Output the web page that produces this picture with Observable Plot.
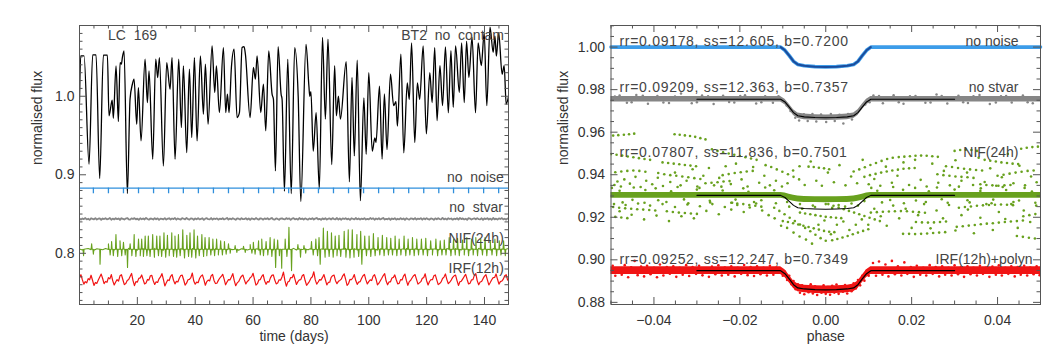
<!DOCTYPE html>
<html><head><meta charset="utf-8">
<script src="https://cdn.jsdelivr.net/npm/d3@7"></script>
<script src="https://cdn.jsdelivr.net/npm/@observablehq/plot@0.6"></script>
<style>
body{margin:0;background:#fff;}
#wrap{display:flex;width:1063px;height:354px;overflow:hidden;}
</style></head><body><div id="wrap"></div>
<script>
// ---------------- LEFT PANEL DATA (time in days, normalised flux) ----------------
const blackCurve = [[0.0,0.992],[0.41,1.0514],[1.57,1.0514],[3.30,0.9134],[4.56,1.0527],[5.72,1.0527],[6.98,0.8951],[8.25,1.0523],[9.64,1.0523],[10.2,0.975],[11.3,0.995],[11.7,0.972],[12.63,1.0387],[13.44,0.9678],[14.02,1.0429],[14.48,1.0408],[14.82,1.0493],[15.40,1.0578],[16.55,0.876],[17.47,0.9962],[18.28,1.0153],[18.86,1.0217],[19.78,0.9644],[20.36,1.0111],[21.28,0.9431],[22.66,1.0472],[23.47,0.992],[24.04,1.0323],[25.31,0.9198],[26.35,1.0472],[27.04,1.0238],[27.62,1.0493],[29.0,0.9112],[30.15,1.0429],[31.30,1.009],[31.99,1.0493],[33.03,0.9198],[34.30,1.0472],[35.22,0.9601],[35.91,1.0387],[37.07,0.9283],[37.99,1.0344],[38.80,0.9474],[39.72,1.0493],[40.64,0.9431],[41.80,1.0514],[42.83,0.9771],[43.52,1.0408],[44.45,0.9644],[45.83,1.0642],[46.75,1.0047],[47.33,1.0387],[48.36,0.9792],[49.75,1.062],[50.55,0.9792],[51.13,1.0026],[51.71,0.9792],[52.51,1.0366],[53.44,1.0599],[54.47,0.9729],[55.28,0.9792],[56.20,1.062],[56.89,1.0633],[57.35,1.0535],[58.97,0.9729],[60.12,1.0366],[60.81,1.0217],[61.39,1.0514],[62.66,0.9792],[63.58,1.0153],[64.39,0.9559],[65.42,1.0578],[66.57,1.0026],[67.04,0.9962],[67.73,0.9049],[68.65,1.0633],[69.69,1.0026],[70.03,0.9962],[70.84,0.879],[72.0,1.047],[73.2,0.876],[74.4,1.062],[75.6,1.0],[76.5,0.866],[78.3,1.066],[79.3,1.013],[79.6,1.0],[80.0,1.006],[80.8,0.930],[81.8,0.979],[82.9,0.882],[84.0,1.075],[85.0,0.971],[85.9,1.0726],[87.2,0.913],[88.2,1.039],[88.8,0.975],[89.5,1.0],[90.2,0.971],[92.2,1.044],[93.3,0.891],[94.2,1.024],[95.0,0.924],[96.0,1.046],[97.1,0.867],[98.3,0.998],[99.1,0.926],[100.0,1.030],[101.2,0.930],[102.1,0.947],[102.5,0.941],[103.7,1.013],[104.6,0.920],[105.4,1.003],[106.3,0.932],[107.5,1.028],[108.6,0.988],[109.4,0.993],[109.9,0.962],[111.1,1.0535],[112.1,0.928],[113.3,1.017],[114.0,0.996],[114.8,1.068],[115.9,0.941],[116.8,1.017],[117.6,0.996],[118.8,1.064],[119.9,0.952],[121.1,1.030],[121.9,0.992],[122.8,1.062],[123.6,0.969],[124.6,1.039],[125.5,0.988],[126.5,1.063],[127.5,0.979],[128.4,1.058],[129.2,0.986],[130.0,1.064],[131.3,1.005],[132.1,1.068],[133.0,0.992],[133.8,1.070],[134.6,1.024],[135.7,1.075],[136.9,0.979],[137.8,1.068],[138.9,1.039],[139.9,1.081],[140.8,0.988],[141.9,1.088],[143.0,1.056],[143.6,1.077],[144.1,1.051],[144.9,1.081],[146.1,1.028],[146.8,1.039],[147.5,0.990],[148.3,1.000]];

// "no noise" curve: flat level with transits
const noNoiseLevel = 0.883;
const noNoiseDepth = 0.0072;
const transitTimes = [4.8,10.0,15.2,20.4,25.6,30.8,35.9,41.1,46.3,51.5,56.7,61.9,67.1,72.3,77.5,82.6,87.8,93.0,98.2,103.4,108.6,113.8,119.0,124.2,129.3,134.5,139.7,144.9];

// "no stvar": level and half-day samples (offsets in 1e-4)
const noStvarLevel = 0.8438;
const sampleStep = 0.5;
const noStvarDev = [4,-9,6,-3,11,-7,2,-12,8,0,-5,10,-8,3,7,-11,5,-2,9,-6,
-1,12,-10,4,-7,8,-3,6,-13,9,1,-8,5,11,-5,-9,7,-2,10,-6,
3,-11,8,-4,6,-7,13,-1,-10,5,2,-8,9,-5,7,-12,4,1,-6,10,
-9,3,8,-7,5,-2,11,-10,6,-4,-8,9,2,-6,12,-3,-9,7,4,-11,
6,-5,10,-7,1,8,-12,3,9,-4,-6,11,-8,5,-2,7,-10,4,-3,9,
-7,2,12,-9,4,-5,8,-1,-11,6,3,-8,10,-4,-2,9,-7,5,-12,7,
1,-6,11,-3,-9,8,4,-10,6,-2,9,-7,3,12,-5,-8,7,0,-11,5,
8,-4,-7,10,-1,6,-12,3,9,-6,2,-9,11,-3,5,-8,7,-2,-10,6,
-3,9,-8,4,12,-6,1,-11,7,-4,8,-9,3,6,-7,10,-2,-5,11,-8,
5,-10,7,-1,9,-6,3,-12,8,2,-7,11,-4,6,-9,4,-3,10,-8,1,
-6,11,-2,8,-10,5,-4,9,-7,3,12,-8,1,-5,7,-11,6,-3,9,-9,
2,-7,10,-4,6,-12,8,-1,-9,5,3,-6,11,-8,4,-2,9,-10,7,-5,
10,-3,-8,6,1,-11,7,-5,9,-2,-7,12,-6,4,-9,8,-1,5,-10,3,
-4,8,-9,11,-2,6,-7,3,-12,9,5,-8,2,7,-5,10,-3,-6,8,-11,
6,-2,9,-7,4,-10,11,-5,3,-8,7,-1,10,-6,2,-9,5];

// "NIF(24h)": daily baseline (offsets 1e-4) plus spike tips [t, flux]
const nifLevel = 0.8051;
const nifBaseDev = [5,-8,3,10,-4,-11,7,2,-6,9,-3,12,-9,4,-1,8,-7,11,-5,6,
-10,3,9,-2,-8,5,12,-6,1,-12,7,-4,10,-7,2,8,-11,4,-3,9,
-6,11,-1,-9,6,3,-10,8,-5,12,-2,-7,9,-4,5,-12,7,1,-8,10,
-3,6,-11,9,2,-6,11,-8,4,-1,-10,7,3,-5,12,-9,6,-2,8,-7,
10,-4,1,-12,7,5,-8,9,-3,6,-11,2,11,-6,-1,8,-9,4,-5,12,
-7,3,9,-10,5,-2,7,-8,12,-4,1,-11,6,10,-5,-3,8,-9,4,-1,
11,-6,2,8,-12,5,-3,9,-7,1,10,-5,-9,6,3,-11,7,-2,12,-8,
4,-1,-10,9,6,-7,3,-5,8];
const nifUp = [[4.2,0.812],[10.0,0.812],[11.1,0.815],[12.6,0.824],[14.0,0.816],[15.2,0.814],[17.5,0.812],[18.9,0.824],[20.4,0.818],[21.5,0.818],[22.7,0.822],[23.8,0.822],[25.3,0.824],[26.7,0.822],[27.8,0.822],[29.2,0.826],[30.4,0.823],[31.9,0.826],[33.0,0.822],[34.2,0.824],[35.7,0.830],[37.1,0.823],[38.2,0.826],[39.6,0.830],[40.8,0.822],[42.3,0.824],[43.4,0.820],[44.8,0.820],[46.1,0.818],[47.4,0.818],[48.8,0.816],[50.1,0.815],[51.5,0.812],[53.8,0.810],[56.7,0.809],[59.0,0.811],[60.1,0.814],[61.9,0.816],[63.0,0.818],[64.5,0.815],[65.9,0.820],[67.3,0.818],[68.5,0.817],[71.1,0.818],[72.4,0.833],[75.5,0.811],[77.6,0.810],[80.2,0.815],[81.7,0.818],[82.8,0.820],[84.3,0.832],[85.7,0.828],[87.1,0.826],[88.4,0.822],[89.7,0.823],[91.5,0.828],[92.9,0.830],[94.3,0.830],[95.9,0.824],[97.2,0.828],[98.6,0.822],[100.1,0.822],[101.6,0.825],[103.2,0.820],[104.7,0.823],[106.2,0.820],[107.6,0.819],[109.1,0.822],[110.5,0.818],[112.2,0.822],[113.6,0.818],[115.1,0.820],[116.6,0.818],[118.2,0.818],[119.7,0.819],[121.4,0.816],[123.2,0.818],[124.7,0.816],[126.1,0.817],[127.8,0.820],[129.3,0.818],[130.7,0.819],[132.4,0.817],[133.9,0.820],[135.5,0.818],[137.0,0.820],[138.7,0.818],[140.2,0.820],[142.0,0.816],[143.6,0.818],[145.1,0.816],[146.6,0.816]];
const nifDown = [[1.4,0.797],[4.8,0.799],[7.1,0.786],[10.6,0.798],[11.7,0.797],[13.2,0.796],[14.6,0.797],[15.8,0.798],[16.6,0.782],[18.1,0.797],[19.5,0.796],[21.0,0.797],[22.1,0.796],[23.3,0.797],[24.4,0.796],[25.9,0.795],[27.3,0.797],[28.4,0.796],[29.8,0.795],[31.0,0.797],[32.5,0.796],[33.6,0.795],[34.8,0.797],[36.3,0.794],[37.7,0.796],[38.8,0.795],[40.2,0.794],[41.4,0.797],[42.9,0.796],[44.0,0.797],[45.4,0.798],[46.7,0.797],[48.0,0.798],[49.4,0.798],[50.7,0.799],[52.1,0.800],[54.4,0.801],[57.3,0.801],[59.6,0.800],[60.7,0.799],[62.5,0.798],[63.6,0.797],[65.1,0.798],[66.5,0.796],[67.8,0.782],[69.1,0.797],[69.9,0.781],[71.7,0.796],[73.3,0.778],[76.4,0.795],[78.2,0.800],[80.8,0.798],[82.3,0.797],[83.2,0.786],[84.9,0.795],[86.3,0.796],[87.7,0.795],[89.0,0.797],[90.3,0.796],[92.1,0.795],[93.5,0.794],[94.9,0.795],[96.5,0.796],[97.6,0.786],[99.2,0.797],[100.7,0.796],[102.2,0.797],[103.8,0.798],[105.3,0.797],[106.8,0.798],[108.2,0.798],[109.7,0.797],[111.1,0.798],[112.8,0.797],[114.2,0.798],[115.7,0.797],[117.2,0.798],[118.8,0.798],[120.3,0.797],[122.0,0.798],[123.8,0.797],[125.3,0.798],[126.7,0.798],[128.4,0.797],[129.9,0.798],[131.3,0.797],[133.0,0.798],[134.5,0.797],[136.1,0.798],[137.6,0.797],[139.3,0.798],[140.8,0.797],[142.6,0.798],[144.2,0.797],[145.7,0.798],[147.2,0.797]];

// "IRF(12h)": level and half-day samples (offsets 1e-4)
const irfLevel = 0.7669;
const irfDev = [20,58,-8,
-62,-30,-45,8,-6,52,-12, -78,-40,-52,-10,30,66,10, -55,-28,-38,22,5,60,-20, -72,-35,-5,-22,44,58,-6,
-68,-55,-14,-2,36,74,-16, -80,-30,-36,12,18,55,-4, -60,-48,-2,-10,45,50,-20, -66,-32,-40,6,30,72,0,
-84,-44,-8,-16,38,60,-12, -58,-26,-34,14,48,52,-6, -74,-50,-6,-2,22,80,-22, -62,-36,-44,10,40,56,-4,
-76,-30,-10,-20,44,62,-14, -54,-50,-14,16,36,64,2, -70,-34,-4,-8,28,72,-18, -82,-46,-30,8,40,54,-8,
-60,-28,-12,20,34,76,-2, -74,-56,-8,-4,36,58,-20, -64,-30,-36,18,50,56,-10, -58,-48,-6,-12,30,92,-14,
-88,-36,-24,22,20,64,0, -66,-30,-8,-4,46,60,-16, -76,-52,-26,14,32,96,-8, -62,-34,-4,-10,24,60,-6,
-72,-40,-38,24,46,54,-18, -56,-26,-14,2,44,70,-2, -78,-54,-2,-6,20,60,-16, -64,-36,-30,10,46,62,-8,
-60,-30,-6,-16,40,58,4, -72,-50,-18,14,48,72,-22, -70,-34,-32,16,24,56,-6, -58,-52,-4,-8,40,66,-14,
-76,-30,-12,20,46,60,-2, -62,-46,-30,12,22,70,-18, -72,-28,-4,-6,44,56,-8, -68,-54,-34,10,28,68,-4,
-56,-36,-10,24,44,54,-16, -78,-32,-24,6,36,62,-2, -60,-50,-8,-4,50,72,-20, -70,-34,-28,8,40,58,-8,
-72,-40,-6,22,24,68,0, -62,-30,-22,2,46,58,-10];

const leftXTicks = [20,40,60,80,100,120,140];
const leftYTicks = [0.8,0.9,1.0];
const leftLabels = {lc:"LC  169", bt:"BT2  no  contam", noise:"no  noise", stvar:"no  stvar", nif:"NIF(24h)", irf:"IRF(12h)"};

// ---------------- RIGHT PANEL DATA (phase, normalised flux) ----------------
const modelPhase = [-0.03,-0.0105,-0.0095,-0.0085,-0.0075,-0.0065,-0.005,-0.0025,0,0.0025,0.005,0.0065,0.0075,0.0085,0.0095,0.0105,0.03];
const blueModel  = [1.0000,1.0000,0.9985,0.9960,0.9933,0.9918,0.9912,0.9908,0.9907,0.9908,0.9912,0.9918,0.9933,0.9960,0.9985,1.0000,1.0000];
const grayModel  = [0.9755,0.9755,0.9742,0.9718,0.9692,0.9677,0.9672,0.9669,0.9668,0.9669,0.9672,0.9677,0.9692,0.9718,0.9742,0.9755,0.9755];
const greenModel = [0.9303,0.9303,0.9293,0.9275,0.9256,0.9245,0.9241,0.9239,0.9238,0.9239,0.9241,0.9245,0.9256,0.9275,0.9293,0.9303,0.9303];
const greenCore  = [0.9303,0.9303,0.9300,0.9294,0.9289,0.9286,0.9284,0.9283,0.9282,0.9283,0.9284,0.9286,0.9289,0.9294,0.9300,0.9303,0.9303];
const redModel   = [0.8949,0.8949,0.8935,0.8910,0.8883,0.8868,0.8863,0.8860,0.8859,0.8860,0.8863,0.8868,0.8883,0.8910,0.8935,0.8949,0.8949];
const phaseEdges = [-0.05, 0.05];

// scattered points: [phase*1e3, flux*1e4]
const grayScatter = [[-48,9772],[-46.3,9738],[-44.1,9775],[-41.4,9734],[-39.2,9770],[-36.5,9737],[-33.7,9782],[-31.2,9736],[-28.8,9773],[-26.1,9733],[-23.9,9771],[-21.3,9739],[-18.8,9774],[-16.2,9735],[-14.1,9769],[-12.3,9738],[-9.1,9725],[-8.2,9700],[-7.1,9668],[-6.2,9655],[-5.1,9684],[-4.2,9652],[-3.1,9686],[-2.2,9650],[-1.1,9683],[0.1,9648],[1.2,9685],[2.1,9653],[3.2,9682],[4.1,9641],[5.2,9686],[6.1,9660],[7.2,9690],[8.1,9712],[9.2,9730],[11.1,9772],[13.3,9736],[15.8,9774],[18.1,9734],[20.9,9770],[23.2,9738],[25.8,9777],[28.3,9735],[30.9,9771],[33.1,9737],[35.8,9775],[38.2,9733],[40.8,9769],[43.3,9739],[45.9,9773],[48.2,9736],
[-49.1,9768],[-45.2,9741],[-42.6,9771],[-37.8,9740],[-35.1,9768],[-30,9741],[-27.4,9769],[-22.5,9742],[-19.9,9770],[-15,9741],[-11,9769],[10.2,9741],[12.4,9770],[17,9741],[19.6,9769],[24.4,9740],[27,9770],[32,9741],[34.4,9769],[39.6,9740],[42,9770],[47,9741]];
const redScatter = [[-49.6,8972],[-49,8925],[-48.2,8960],[-47.5,8930],[-46.8,8975],[-46,8918],[-45.3,8965],[-44.5,8995],[-43.8,8928],[-43,8968],[-42.3,8922],[-41.6,8972],[-40.8,8932],[-40,8962],[-39.3,8918],[-38.6,8978],[-37.8,8926],[-37,8966],[-36.3,8935],[-35.5,8970],[-34.8,8920],[-34,8962],[-33.3,8930],[-32.5,8975],[-31.8,8924],[-31,8966],[-30.2,8934],[-29.5,8972],[-28.7,8927],[-28,8960],[-27.2,8920],[-26.5,8968],[-25.7,8932],[-25,8974],[-24.2,8926],[-23.5,8964],[-22.7,8930],[-22,8970],[-21.2,8922],[-20.5,8962],[-19.7,8934],[-19,8976],[-18.2,8928],[-17.5,8966],[-16.7,8924],[-16,8970],[-15.2,8932],[-14.5,8962],[-13.7,8926],[-13,8972],[-12.2,8930],[-11.5,8964],
[-10.5,8952],[-10,8925],[-9.5,8945],[-9,8905],[-8.5,8925],[-8,8885],[-7.5,8900],[-7,8862],[-6.5,8885],[-6,8845],[-5.5,8880],[-5,8838],[-4.5,8872],[-4,8848],[-3.5,8885],[-3,8842],[-2.5,8876],[-2,8835],[-1.5,8868],[-1,8845],[-0.5,8880],[0,8840],[0.5,8872],[1,8836],[1.5,8878],[2,8846],[2.5,8884],[3,8840],[3.5,8870],[4,8850],[4.5,8882],[5,8842],[5.5,8876],[6,8852],[6.5,8890],[7,8865],[7.5,8905],[8,8880],[8.5,8925],[9,8902],[9.5,8948],[10,8925],
[11,8985],[11.7,8925],[12.4,8992],[13.2,8930],[13.9,8978],[14.6,8922],[15.4,8995],[16.1,8932],[16.8,8970],[17.6,8926],[18.3,8988],[19,8934],[19.8,8966],[20.5,8920],[21.2,8972],[22,8930],[22.7,8962],[23.4,8926],[24.2,8975],[24.9,8934],[25.6,8966],[26.4,8922],[27.1,8970],[27.8,8930],[28.6,8962],[29.3,8926],[30,8974],[30.8,8932],[31.5,8966],[32.2,8920],[33,8970],[33.7,8932],[34.4,8962],[35.2,8926],[35.9,8972],[36.6,8934],[37.4,8964],[38.1,8920],[38.8,8968],[39.6,8930],[40.3,8974],[41,8926],[41.8,8962],[42.5,8934],[43.2,8970],[44,8922],[44.7,8966],[45.4,8930],[46.2,8972],[46.9,8926],[47.6,8964],[48.4,8932],[49.1,8970],[49.8,8928]];
const greenScatter = [[-49.5,9584],[-48.3,9586],[-47,9588],[-45.8,9590],[-44.6,9593],
[-35.2,9590],[-34,9588],[-32.8,9585],[-31.6,9582],[-30.4,9578],[-29.2,9572],[-28,9566],
[-26.5,9520],[-25.2,9512],[-23.9,9505],[-22.6,9500],[-21.3,9494],[-20,9488],[-18.7,9482],[-17.4,9476],[-16.1,9470],
[-50,9497],[-48.7,9494],[-47.4,9490],[-46.1,9486],[-44.8,9482],[-43.5,9478],[-42.2,9474],[-40.9,9470],
[-38,9458],[-36.7,9455],[-35.4,9452],[-34.1,9449],[-32.8,9446],[-31.5,9443],[-30.2,9440],
[-14,9445],[-12.7,9436],[-11.4,9425],[-10.1,9414],[-8.8,9402],[-7.5,9390],[-6.2,9378],
[6.5,9415],[7.8,9425],[9.1,9435],[10.4,9446],[11.7,9455],[13,9465],[14.3,9474],[15.6,9480],
[17,9483],[18.3,9485],[19.6,9487],[20.9,9489],[22.2,9490],[23.5,9489],[24.8,9487],[26.1,9484],
[30,9512],[31.3,9516],[32.6,9518],[33.9,9516],[35.2,9512],
[45.5,9522],[46.8,9527],[48.1,9530],[49.4,9532],
[37,9470],[38.3,9466],[39.6,9462],[40.9,9458],[42.2,9455],[43.5,9452],[44.8,9450],
[9,9390],[10.3,9398],[11.6,9404],[12.9,9410],[14.2,9415],[15.5,9420],[16.8,9424],[18.1,9428],[19.4,9430],[20.7,9432],
[-49,9412],[-47.6,9415],[-46.2,9418],[-44.8,9420],[-43.4,9418],[-42,9414],
[-39,9408],[-37.6,9402],[-36.2,9398],[-34.8,9395],[-33.4,9392],[-32,9388],[-30.6,9384],[-29.2,9380],
[-24,9398],[-22.6,9403],[-21.2,9408],[-19.8,9412],[-18.4,9415],[-17,9418],
[26,9402],[27.4,9398],[28.8,9395],[30.2,9392],[31.6,9390],[33,9388],[34.4,9385],
[40,9395],[41.4,9400],[42.8,9405],[44.2,9410],[45.6,9414],[47,9418],[48.4,9420],
[-4,9438],[-2.8,9436],[-1.6,9433],[-0.4,9430],[0.8,9426],
[28,9440],[29.4,9436],[30.8,9432],[32.2,9428],[33.6,9425],[35,9422],[36.4,9420],
[-28,9360],[-26.6,9362],[-25.2,9365],[-23.8,9368],[-22.4,9370],
[36,9355],[37.4,9352],[38.8,9350],[40.2,9348],[41.6,9350],[43,9352],
[-49.5,9248],[-48.1,9245],[-46.7,9242],[-45.3,9240],[-43.9,9238],[-42.5,9236],[-41.1,9234],[-39.7,9232],
[-37,9228],[-35.6,9225],[-34.2,9222],[-32.8,9220],[-31.4,9218],[-30,9216],
[-49,9202],[-47.6,9199],[-46.2,9196],
[-22,9268],[-20.6,9265],[-19.2,9262],[-17.8,9258],[-16.4,9254],[-15,9250],
[-12,9245],[-10.8,9230],[-9.6,9214],[-8.4,9198],[-7.2,9182],[-6,9166],[-4.8,9150],[-3.6,9134],[-2.4,9118],[-1.2,9102],[0,9090],
[-10,9182],[-8.8,9178],[-7.6,9172],[-6.4,9166],[-5.2,9160],[-4,9154],[-2.8,9148],[-1.6,9142],[-0.4,9136],[0.8,9132],[2,9130],
[-6,9222],[-4.8,9218],[-3.6,9214],[-2.4,9210],[-1.2,9206],[0,9202],[1.2,9200],[2.4,9198],[3.6,9196],
[1.5,9092],[2.7,9098],[3.9,9105],[5.1,9112],[6.3,9120],[7.5,9128],[8.7,9136],[9.9,9144],
[0.6,9262],[1.8,9254],[3,9246],[4.2,9238],[5.4,9230],[6.6,9222],[7.8,9214],[9,9206],[10.2,9198],[11.4,9190],[12.6,9182],
[10.5,9222],[11.9,9224],[13.3,9226],[14.7,9227],[16.1,9228],[17.5,9229],[18.9,9228],[20.3,9226],[21.7,9224],[23.1,9221],
[21,9178],[22.4,9176],[23.8,9175],[25.2,9176],[26.6,9178],[28,9180],
[18,9122],[19.4,9122],[20.8,9121],[22.2,9122],[23.6,9124],[25,9126],[26.4,9128],[27.8,9130],
[31,9245],[32.4,9248],[33.8,9251],[35.2,9254],[36.6,9256],[38,9258],[39.4,9259],[40.8,9260],[42.2,9259],[43.6,9257],
[30.5,9155],[31.9,9158],[33.3,9161],[34.7,9164],[36.1,9167],[37.5,9170],[38.9,9172],[40.3,9175],[41.7,9178],[43.1,9180],[44.5,9182],[45.9,9185],
[44.5,9112],[45.9,9108],[47.3,9104],[48.7,9100],
[46,9205],[47.4,9210],[48.8,9215],
[-49.2,9352],[-48.5,9368],[-47.7,9345],[-46.9,9378],[-45.6,9358],[-44.3,9390],[-43.1,9342],[-41.8,9372],[-40.4,9355],[-39.1,9386],[-37.9,9347],[-36.2,9366],[-35.1,9410],[-33.8,9350],[-32.4,9372],[-31,9426],[-29.9,9345],[-28.5,9395],[-27.2,9432],[-26,9350],[-24.8,9385],[-23.3,9440],[-22.1,9356],[-20.9,9452],[-19.6,9378],[-18.2,9345],[-16.9,9436],[-15.5,9362],[-14.3,9395],[-13,9350],[-11.6,9372],[-10.2,9345],[-8.9,9360],[-7.6,9420],[-6.1,9440],[-4.9,9352],[-3.5,9462],[-2.2,9372],[-0.9,9348],[0.5,9410],[1.9,9365],[3.2,9445],[4.6,9350],[5.9,9392],[7.3,9360],[8.6,9470],[10,9355],[11.3,9380],[12.7,9348],[14,9438],[15.4,9362],[16.7,9395],[18.1,9458],[19.4,9352],[20.8,9470],[22.1,9376],[23.5,9345],[24.8,9452],[26.2,9362],[27.5,9418],[28.9,9350],[30.2,9468],[31.6,9372],[32.9,9410],[34.3,9352],[35.6,9480],[37,9366],[38.3,9430],[39.7,9348],[41,9388],[42.4,9498],[43.7,9360],[45.1,9442],[46.4,9350],[47.8,9392],[49.1,9365],
[-49.3,9262],[-48,9228],[-46.6,9258],[-45.2,9212],[-43.7,9265],[-42.3,9190],[-40.9,9255],[-39.4,9208],[-38,9262],[-36.5,9182],[-35.1,9248],[-33.6,9205],[-32.2,9260],[-30.7,9195],[-29.3,9252],[-27.8,9230],[-26.4,9262],[-24.9,9214],[-23.5,9248],[-22,9236],[-20.6,9258],[-19.1,9225],[-17.7,9246],[-16.2,9265],[-14.8,9232],[-13.3,9210],[-11.9,9195],[-10.4,9160],[-9,9150],[-7.5,9128],[-6.1,9110],[-4.6,9095],[-3.2,9076],[-1.7,9165],[-0.3,9185],[1.2,9120],[2.6,9165],[4.1,9180],[5.5,9140],[7,9165],[8.4,9190],[9.9,9165],[11.3,9240],[12.8,9205],[14.2,9160],[15.7,9255],[17.1,9195],[18.6,9240],[20,9150],[21.5,9210],[22.9,9262],[24.4,9148],[25.8,9232],[27.3,9195],[28.7,9258],[30.2,9138],[31.6,9210],[33.1,9236],[34.5,9125],[36,9198],[37.4,9262],[38.9,9140],[40.3,9225],[41.8,9192],[43.2,9262],[44.7,9150],[46.1,9232],[47.6,9178],[49,9255],
[-49.8,9338],[-47.3,9270],[-44.7,9340],[-42.2,9268],[-39.6,9336],[-37.1,9272],[-34.5,9342],[-32,9266],[-29.4,9338],[-26.9,9270],[-24.3,9344],[-21.8,9268],[-19.2,9336],[-16.7,9272],[-14.1,9340],[-11.6,9266],[-8.5,9250],[-5.5,9240],[-2.5,9248],[1.5,9244],[4.5,9250],[7.5,9255],[10.6,9338],[13.1,9270],[15.7,9342],[18.2,9266],[20.8,9338],[23.3,9272],[25.9,9340],[28.4,9268],[31,9344],[33.5,9270],[36.1,9336],[38.6,9266],[41.2,9342],[43.7,9272],[46.3,9338],[48.8,9268],
[-48,9325],[-45,9282],[-42,9328],[-39,9280],[-36,9322],[-33,9284],[-30,9330],[-27,9278],[-24,9326],[-21,9283],[-18,9320],[-15,9280],[-12,9327],[-9,9272],[-6,9262],[-3,9255],[0,9262],[3,9258],[6,9265],[9,9276],[12,9325],[15,9281],[18,9329],[21,9279],[24,9322],[27,9285],[30,9330],[33,9280],[36,9324],[39,9283],[42,9328],[45,9279],[48,9321]];

const rightXTicks = [-0.04,-0.02,0,0.02,0.04];
const rightYTicks = [0.88,0.90,0.92,0.94,0.96,0.98,1.00];
const fitLabels = ["rr=0.09178, ss=12.605, b=0.7200","rr=0.09209, ss=12.363, b=0.7357","rr=0.07807, ss=11.836, b=0.7501","rr=0.09252, ss=12.247, b=0.7349"];
const caseLabels = ["no noise","no stvar","NIF(24h)","IRF(12h)+polyn"];

// ---------------- drawing ----------------
const FONT = "'Liberation Sans', Arial, Helvetica, sans-serif";
const AX = "#555";
const C = {black:"#000", blue:"#2f8fdc", lblue:"#3c9ce9", dblue:"#1b4c9c", gray:"#868686", green:"#68a11e", red:"#f01414"};

function frameTicks(xMaj, xMin, yMaj, yMin, iw, ih) {
  const o = {stroke: AX, strokeWidth: 1};
  return [
    Plot.tickX(xMaj, {...o, x: d => d, insetTop: ih - 7}),
    Plot.tickX(xMaj, {...o, x: d => d, insetBottom: ih - 7}),
    Plot.tickX(xMin, {...o, x: d => d, insetTop: ih - 3.5}),
    Plot.tickX(xMin, {...o, x: d => d, insetBottom: ih - 3.5}),
    Plot.tickY(yMaj, {...o, y: d => d, insetRight: iw - 7}),
    Plot.tickY(yMaj, {...o, y: d => d, insetLeft: iw - 7}),
    Plot.tickY(yMin, {...o, y: d => d, insetRight: iw - 3.5}),
    Plot.tickY(yMin, {...o, y: d => d, insetLeft: iw - 3.5}),
    Plot.frame({stroke: AX, strokeWidth: 1})
  ];
}

// left tables
const spikeHalfWidth = 0.18;
const blackRows = blackCurve.map(([t, f]) => ({t, f}));
const grayRows = noStvarDev.map((v, i) => ({t: i * sampleStep, f: noStvarLevel + v / 1e4}));
const irfRows = irfDev.map((v, i) => ({t: i * sampleStep, f: irfLevel + v / 1e4}));
const spikeRows = ([t, f]) => [{t: t - spikeHalfWidth, f: nifLevel}, {t, f}, {t: t + spikeHalfWidth, f: nifLevel}];
const nifRows = [
  ...nifBaseDev.map((v, i) => ({t: i, f: nifLevel + v / 1e4})),
  ...nifUp.flatMap(spikeRows),
  ...nifDown.flatMap(spikeRows)
].sort((a, b) => a.t - b.t);

const LW = 530, LH = 354, LML = 79, LMR = 22, LMT = 25, LMB = 50;
const liw = LW - LML - LMR, lih = LH - LMT - LMB;
const lxMinor = d3.range(1, 30).map(i => i * 5).filter(v => v % 20 !== 0 && v < 148.3);
const lyMinor = d3.range(74, 109).map(i => i / 100).filter(v => Math.abs(v * 10 - Math.round(v * 10)) > 1e-6);

const left = Plot.plot({
  width: LW, height: LH, marginLeft: LML, marginRight: LMR, marginTop: LMT, marginBottom: LMB,
  x: {domain: [0, 148.3]},
  y: {domain: [0.7348, 1.0901]},
  style: {background: "#fff", color: "#333", fontFamily: FONT, fontSize: "14px"},
  marks: [
    Plot.line(irfRows, {x: "t", y: "f", stroke: C.red, strokeWidth: 1.2, clip: true}),
    Plot.line(nifRows, {x: "t", y: "f", stroke: C.green, strokeWidth: 1.1, clip: true}),
    Plot.line(grayRows, {x: "t", y: "f", stroke: C.gray, strokeWidth: 1.8, clip: true}),
    Plot.line(blackRows, {x: "t", y: "f", stroke: C.black, strokeWidth: 1.3, curve: "monotone-x", clip: true}),
    Plot.ruleY([noNoiseLevel], {stroke: C.blue, strokeWidth: 1.3}),
    Plot.ruleX(transitTimes, {x: d => d, y1: noNoiseLevel, y2: noNoiseLevel - noNoiseDepth, stroke: C.blue, strokeWidth: 1.3}),
    ...frameTicks(leftXTicks, lxMinor, leftYTicks, lyMinor, liw, lih),
    Plot.axisX({ticks: leftXTicks, tickSize: 0, tickPadding: 11, label: null, tickFormat: d => String(d)}),
    Plot.axisY({ticks: leftYTicks, tickSize: 0, tickPadding: 5, label: null, tickFormat: d => d.toFixed(1)}),
    Plot.text(["time (days)"], {frameAnchor: "bottom", dy: 32, lineAnchor: "middle", fill: "#333"}),
    Plot.text(["normalised flux"], {frameAnchor: "left", dx: -42, rotate: -90, lineAnchor: "middle", fill: "#333"}),
    Plot.text([leftLabels.lc], {frameAnchor: "top-left", dx: 28.5, dy: 10.5, textAnchor: "start", lineAnchor: "middle", fill: "#444"}),
    Plot.text([leftLabels.bt], {frameAnchor: "top-right", dx: -4.5, dy: 10.5, textAnchor: "end", lineAnchor: "middle", fill: "#444"}),
    Plot.text([leftLabels.noise], {frameAnchor: "top-right", dx: -4.7, dy: 152, textAnchor: "end", lineAnchor: "middle", fill: "#444"}),
    Plot.text([leftLabels.stvar], {frameAnchor: "top-right", dx: -5.5, dy: 182.3, textAnchor: "end", lineAnchor: "middle", fill: "#444"}),
    Plot.text([leftLabels.nif], {frameAnchor: "top-right", dx: -4.7, dy: 213.3, textAnchor: "end", lineAnchor: "middle", fill: "#444"}),
    Plot.text([leftLabels.irf], {frameAnchor: "top-right", dx: -4.7, dy: 243.3, textAnchor: "end", lineAnchor: "middle", fill: "#444"})
  ]
});

// right tables
const modelRows = (arr) => arr.map((f, i) => ({p: modelPhase[i], f}));
const bandRows = (arr) => [{p: phaseEdges[0], f: arr[0]}, ...modelRows(arr), {p: phaseEdges[1], f: arr[arr.length - 1]}];
const dotRows = (arr) => arr.map(([p, f]) => ({p: p / 1000, f: f / 1e4}));
const inTransit = (r) => Math.abs(r.p) <= 0.0105;

const RW = 533, RH = 354, RML = 80.5, RMR = 23, RMT = 25, RMB = 50;
const riw = RW - RML - RMR, rih = RH - RMT - RMB;
const rxMinor = d3.range(-10, 11).map(i => i * 0.005).filter(v => Math.abs(v * 50 - Math.round(v * 50)) > 1e-6);
const ryMinor = d3.range(176, 203).map(i => i * 0.005).filter(v => Math.abs(v * 50 - Math.round(v * 50)) > 1e-6);
const fmtPhase = d => Math.abs(d) < 1e-9 ? "0.00" : (d < 0 ? "\u2212" : "") + Math.abs(d).toFixed(2);

const right = Plot.plot({
  width: RW, height: RH, marginLeft: RML, marginRight: RMR, marginTop: RMT, marginBottom: RMB,
  x: {domain: [-0.05, 0.05]},
  y: {domain: [0.8790, 1.01015]},
  style: {background: "#fff", color: "#333", fontFamily: FONT, fontSize: "14px"},
  marks: [
    Plot.dot(dotRows(greenScatter), {x: "p", y: "f", r: 1.3, fill: C.green, stroke: null, clip: true}),
    Plot.areaY(bandRows(greenCore), {x: "p", y1: d => d.f - 0.0014, y2: d => d.f + 0.0014, fill: C.green}),
    Plot.areaY(bandRows(grayModel), {x: "p", y1: d => d.f - 0.0013, y2: d => d.f + 0.0013, fill: C.gray}),
    Plot.dot(dotRows(grayScatter), {x: "p", y: "f", r: 1.25, fill: C.gray, stroke: null}),
    Plot.areaY(bandRows(redModel), {x: "p", y1: d => d.f - 0.0018, y2: d => d.f + 0.0018, fill: C.red}),
    Plot.dot(dotRows(redScatter), {x: "p", y: "f", r: 1.3, fill: C.red, stroke: null, clip: true}),
    Plot.line(bandRows(blueModel), {x: "p", y: "f", stroke: C.lblue, strokeWidth: 3.6}),
    Plot.line(modelRows(blueModel).filter(inTransit), {x: "p", y: "f", stroke: C.dblue, strokeWidth: 2}),
    Plot.line(modelRows(grayModel), {x: "p", y: "f", stroke: "#000", strokeWidth: 1.1}),
    Plot.line(modelRows(greenModel), {x: "p", y: "f", stroke: "#000", strokeWidth: 1.1}),
    Plot.line(modelRows(redModel), {x: "p", y: "f", stroke: "#000", strokeWidth: 1.2}),
    ...frameTicks(rightXTicks, rxMinor, rightYTicks, ryMinor, riw, rih),
    Plot.axisX({ticks: rightXTicks, tickSize: 0, tickPadding: 11, label: null, tickFormat: fmtPhase}),
    Plot.axisY({ticks: rightYTicks, tickSize: 0, tickPadding: 6, label: null, tickFormat: d => d.toFixed(2)}),
    Plot.text(["phase"], {frameAnchor: "bottom", dy: 32, lineAnchor: "middle", fill: "#333"}),
    Plot.text(["normalised flux"], {frameAnchor: "left", dx: -47.5, rotate: -90, lineAnchor: "middle", fill: "#333"}),
    Plot.text([fitLabels[0]], {frameAnchor: "top-left", dx: 8.5, dy: 15.8, textAnchor: "start", lineAnchor: "middle", fill: "#444"}),
    Plot.text([fitLabels[1]], {frameAnchor: "top-left", dx: 8.5, dy: 61.7, textAnchor: "start", lineAnchor: "middle", fill: "#444"}),
    Plot.text([fitLabels[2]], {frameAnchor: "top-left", dx: 8.5, dy: 127, textAnchor: "start", lineAnchor: "middle", fill: "#444"}),
    Plot.text([fitLabels[3]], {frameAnchor: "top-left", dx: 8.5, dy: 234, textAnchor: "start", lineAnchor: "middle", fill: "#444"}),
    Plot.text([caseLabels[0]], {frameAnchor: "top-right", dx: -22, dy: 15.8, textAnchor: "end", lineAnchor: "middle", fill: "#444"}),
    Plot.text([caseLabels[1]], {frameAnchor: "top-right", dx: -22, dy: 61.7, textAnchor: "end", lineAnchor: "middle", fill: "#444"}),
    Plot.text([caseLabels[2]], {frameAnchor: "top-right", dx: -22, dy: 127, textAnchor: "end", lineAnchor: "middle", fill: "#444"}),
    Plot.text([caseLabels[3]], {frameAnchor: "top-right", dx: -8, dy: 234, textAnchor: "end", lineAnchor: "middle", fill: "#444"})
  ]
});

const wrap = document.getElementById("wrap");
wrap.appendChild(left);
wrap.appendChild(right);
d3.select(right).selectAll("text").filter(function () { return this.textContent.startsWith("rr="); })
  .style("letter-spacing", "0.7px");
</script>
</body></html>
